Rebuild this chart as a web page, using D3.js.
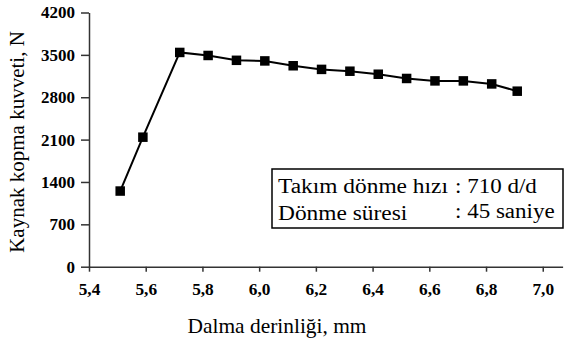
<!DOCTYPE html>
<html><head><meta charset="utf-8">
<script src="https://cdn.jsdelivr.net/npm/d3@7"></script>
<style>body{margin:0;background:#fff}svg{display:block}</style>
</head><body><svg id="c" width="565" height="340"></svg>
<script>
const depth = [5.51, 5.59, 5.72, 5.82, 5.92, 6.02, 6.12, 6.22, 6.32, 6.42, 6.52, 6.62, 6.72, 6.82, 6.91];
const force = [1250, 2140, 3540, 3490, 3410, 3400, 3320, 3260, 3230, 3180, 3110, 3070, 3070, 3020, 2900];
const xTicks = [5.4, 5.6, 5.8, 6.0, 6.2, 6.4, 6.6, 6.8, 7.0];
const yTicks = [0, 700, 1400, 2100, 2800, 3500, 4200];
const xTitle = "Dalma derinliği, mm";
const yTitle = "Kaynak kopma kuvveti, N";
const legendLabels = ["Takım dönme hızı", "Dönme süresi"];
const legendValues = [": 710 d/d", ": 45 saniye"];

const FONT = '"Liberation Serif", "Times New Roman", serif';
const svg = d3.select("#c");
const x = d3.scaleLinear().domain([5.4, 7.07]).range([89, 562.6]);
const y = d3.scaleLinear().domain([0, 4200]).range([266.7, 12.5]);

const fmtX = d => d3.format(".1f")(d).replace(".", ",");
const stretch = (sel, k) => sel.each(function () {
  const w = this.getComputedTextLength();
  d3.select(this).attr("textLength", w * k).attr("lengthAdjust", "spacingAndGlyphs");
});

const gx = svg.append("g").attr("transform", `translate(0,${y(0)})`)
  .call(d3.axisBottom(x).tickValues(xTicks).tickSize(5).tickSizeOuter(0).tickPadding(12).tickFormat(fmtX));
const gy = svg.append("g").attr("transform", `translate(${x(5.4)},0)`)
  .call(d3.axisLeft(y).tickValues(yTicks).tickSize(8).tickSizeOuter(0).tickPadding(6).tickFormat(d3.format("d")));
[gx, gy].forEach(g => {
  g.attr("font-size", 16.5);
  g.select(".domain").attr("stroke", "#333").attr("stroke-width", 1.5);
  g.selectAll(".tick line").attr("stroke", "#333").attr("stroke-width", 1.5);
  g.selectAll(".tick text").style("font-family", FONT).attr("fill", "#000").attr("font-weight", "bold");
});
gy.selectAll(".tick text").attr("font-size", 17);
stretch(gx.selectAll(".tick text"), 1.05);

const xt = svg.append("text").attr("x", 277).attr("y", 333).attr("text-anchor", "middle")
  .style("font-family", FONT).attr("font-size", 21).text(xTitle);
stretch(xt, 1.02);
svg.append("text").attr("transform", "translate(24,142) rotate(-90)").attr("text-anchor", "middle")
  .style("font-family", FONT).attr("font-size", 21).text(yTitle);

const line = d3.line().x((d, i) => x(depth[i])).y(d => y(d));
svg.append("path").datum(force).attr("d", line).attr("fill", "none").attr("stroke", "#000").attr("stroke-width", 2);
const ms = 9.5;
svg.selectAll("rect.m").data(force).enter().append("rect").attr("class", "m")
  .attr("x", (d, i) => x(depth[i]) - ms / 2).attr("y", d => y(d) - ms / 2)
  .attr("width", ms).attr("height", ms).attr("fill", "#000");

// info box
const bx = 272, by = 169, bw = 291, bh = 59;
svg.append("rect").attr("x", bx).attr("y", by).attr("width", bw).attr("height", bh)
  .attr("fill", "#fff").attr("stroke", "#000").attr("stroke-width", 1.5);
legendLabels.forEach((t, i) => {
  stretch(svg.append("text").attr("x", bx + 6).attr("y", by + 24 + i * 27)
    .style("font-family", FONT).attr("font-size", 20).text(t), 1.17);
});
legendValues.forEach((t, i) => {
  stretch(svg.append("text").attr("x", bx + 183).attr("y", by + 24 + i * 25)
    .style("font-family", FONT).attr("font-size", 20).text(t), 1.15);
});
</script></body></html>
